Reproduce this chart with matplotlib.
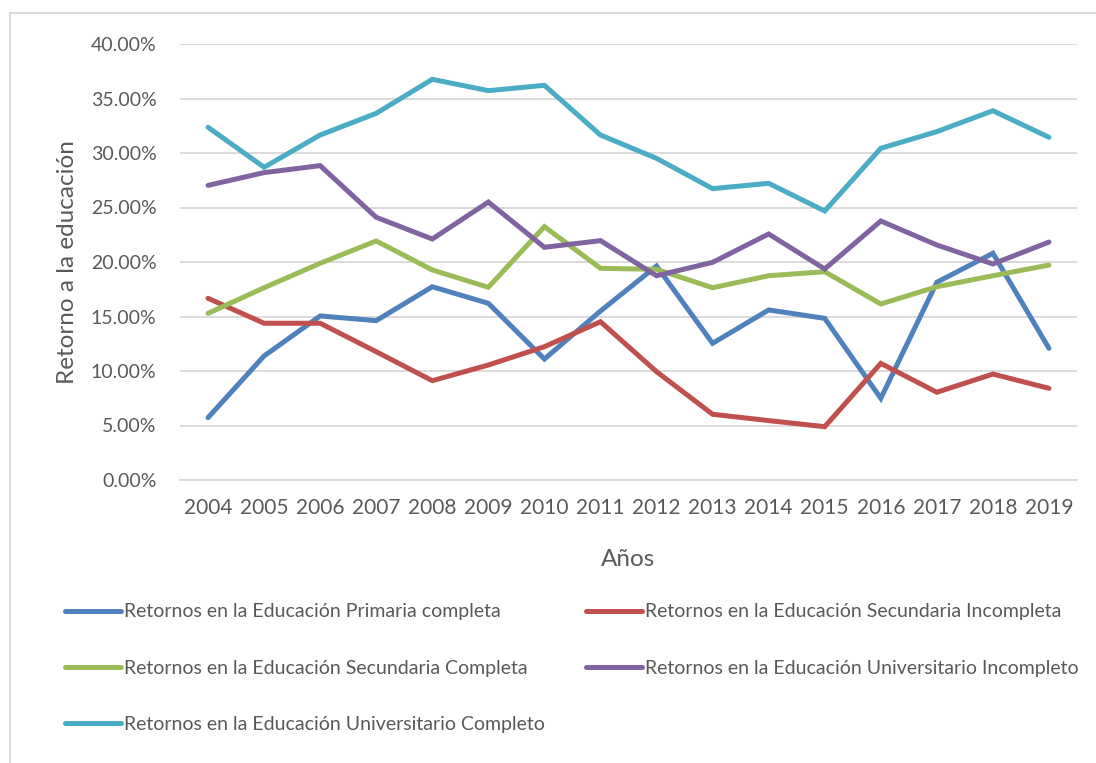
import matplotlib.pyplot as plt
from matplotlib.patches import Rectangle
from matplotlib.ticker import FuncFormatter

plt.rcParams['font.family'] = ['Lato', 'DejaVu Sans']

years = [2004, 2005, 2006, 2007, 2008, 2009, 2010, 2011,
         2012, 2013, 2014, 2015, 2016, 2017, 2018, 2019]

# returns to education, in percent
primaria_completa = [5.72, 11.38, 15.05, 14.62, 17.73, 16.21, 11.10, 15.50,
                     19.63, 12.54, 15.60, 14.83, 7.49, 18.14, 20.80, 12.08]
secundaria_incompleta = [16.67, 14.38, 14.38, 11.77, 9.11, 10.55, 12.23, 14.52,
                         9.94, 6.03, 5.45, 4.89, 10.70, 8.05, 9.72, 8.41]
secundaria_completa = [15.29, 17.64, 19.88, 21.93, 19.27, 17.68, 23.24, 19.42,
                       19.33, 17.64, 18.74, 19.11, 16.15, 17.73, 18.74, 19.72]
univ_incompleto = [27.03, 28.20, 28.84, 24.10, 22.11, 25.50, 21.35, 21.96,
                   18.74, 19.97, 22.57, 19.36, 23.76, 21.56, 19.82, 21.83]
univ_completo = [32.36, 28.69, 31.65, 33.64, 36.76, 35.72, 36.21, 31.65,
                 29.51, 26.73, 27.22, 24.68, 30.43, 31.96, 33.88, 31.44]

series = [
    ('Retornos en la Educación Primaria completa', primaria_completa, '#4F81BD'),
    ('Retornos en la Educación Secundaria Incompleta', secundaria_incompleta, '#C0504D'),
    ('Retornos en la Educación Secundaria Completa', secundaria_completa, '#9BBB59'),
    ('Retornos en la Educación Universitario Incompleto', univ_incompleto, '#8064A2'),
    ('Retornos en la Educación Universitario Completo', univ_completo, '#4BACC6'),
]

text_color = '#595959'
grid_color = '#D9D9D9'

fig = plt.figure(figsize=(10.96, 7.63), dpi=100)
ax = fig.add_axes([180 / 1096, 1 - 480 / 763, 897 / 1096, 436 / 763])

for label, values, color in series:
    ax.plot(years, values, color=color, lw=3.6, label=label,
            solid_joinstyle='miter', solid_capstyle='round')

ax.set_xlim(2003.5, 2019.5)
ax.set_ylim(0, 40)
ax.set_xticks(years)
ax.set_yticks(range(0, 41, 5))
ax.yaxis.set_major_formatter(FuncFormatter(lambda v, p: f'{v:.2f}%'))
ax.tick_params(length=0, colors=text_color)
ax.tick_params(axis='y', labelsize=14, pad=17)
ax.tick_params(axis='x', labelsize=15, pad=13)
ax.grid(axis='y', color=grid_color, lw=1.3)
ax.set_axisbelow(True)
for side in ['top', 'right', 'left']:
    ax.spines[side].set_visible(False)
ax.spines['bottom'].set_color(grid_color)
ax.spines['bottom'].set_linewidth(1.3)

ax.set_xlabel('Años', fontsize=17.5, color=text_color, labelpad=22)
ax.set_ylabel('Retorno a la educación', fontsize=17.5, color=text_color, labelpad=9)

# legend filled row by row: two columns, three rows
handles, labels = ax.get_legend_handles_labels()
order = [0, 2, 4, 1, 3]
leg = fig.legend([handles[i] for i in order], [labels[i] for i in order],
                 loc='upper left', ncol=2,
                 bbox_to_anchor=(47 / 1096, 1 - 586 / 763),
                 frameon=False, fontsize=14, handlelength=2.9,
                 handletextpad=0.15, columnspacing=2.1, labelspacing=2.02,
                 labelcolor=text_color)

# chart area outline
fig.patches.append(Rectangle((10 / 1096, -0.1), 1.2, 1 - 13 / 763 + 0.1,
                             transform=fig.transFigure, fill=False,
                             edgecolor=grid_color, lw=1.5))

fig.savefig('out.png', dpi=100)
